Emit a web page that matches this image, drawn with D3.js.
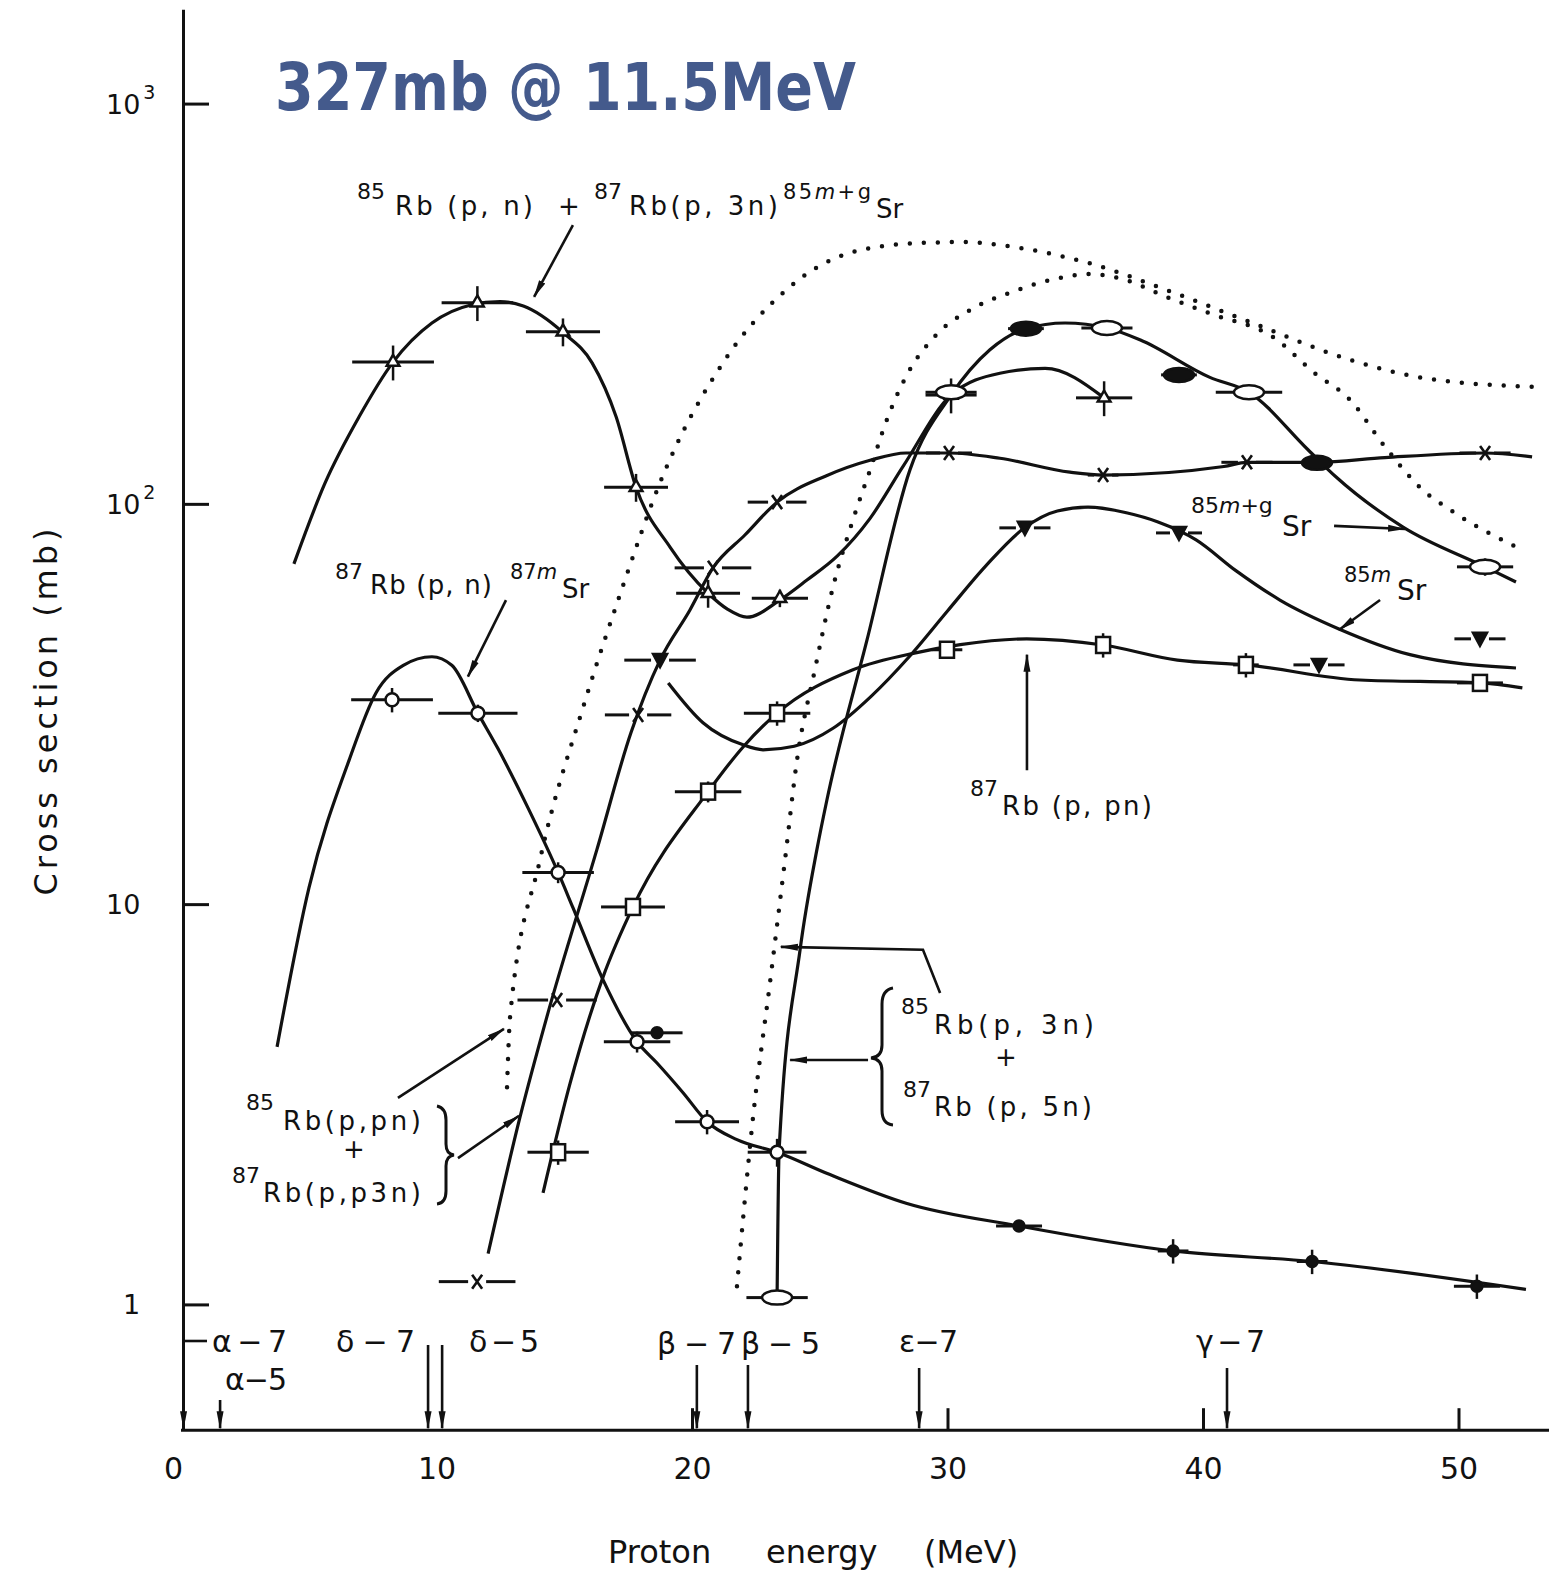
<!DOCTYPE html>
<html>
<head>
<meta charset="utf-8">
<script src="https://cdn.jsdelivr.net/npm/d3@7"></script>
<style>
  body { margin: 0; background: #fff; }
  svg { display: block; }
  text { font-family: "DejaVu Sans", "Liberation Sans", sans-serif; fill: #111; }
</style>
</head>
<body>
<svg id="chart" width="1549" height="1579"></svg>
<script>
// ---- values: [energy MeV, cross section mb, energy half width, relative error (, filled)]
const triPts = [
  [8.30, 226, 1.6, 0.10], [11.6, 318, 1.4, 0.10], [14.95, 269, 1.45, 0.08],
  [17.81, 110, 1.25, 0.08], [20.63, 59.8, 1.25, 0.08], [23.44, 58.1, 1.1, 0.05],
  [30.14, 187, 1.0, 0.10], [36.13, 184, 1.1, 0.10]
];
const triFit = [
  [4.42, 70.8], [5.64, 112.8], [6.97, 165], [8.30, 226], [9.82, 283], [11.35, 314],
  [12.49, 320], [13.4, 312], [14.95, 268], [16.09, 225], [17.03, 165], [17.81, 110],
  [19.14, 78], [20.63, 59.8], [21.4, 54.5], [22.15, 52.1], [23.44, 57.5], [24.50, 64.5],
  [25.68, 74], [26.97, 92], [28.26, 124], [30.14, 187], [32.05, 212], [33.82, 218], [36.13, 184]
];

const circPts = [
  [8.26, 32.4, 1.6, 0.07], [11.62, 30.0, 1.55, 0.05], [14.76, 12.0, 1.4, 0.06],
  [17.85, 4.53, 1.3, 0.06], [20.59, 2.86, 1.25, 0.07], [23.33, 2.40, 1.15, 0.08]
];
const dotPts = [
  [18.63, 4.77, 1.0, 0], [32.80, 1.57, 0.9, 0], [38.83, 1.36, 0.6, 0.07],
  [44.27, 1.28, 0.6, 0.07], [50.72, 1.11, 0.9, 0.07]
];
const circFit = [
  [3.76, 4.40], [5.01, 11.0], [6.58, 22.9], [7.63, 33.7], [8.7, 39.5], [9.82, 41.5],
  [10.6, 39.5], [11.62, 30.0], [12.4, 24.5], [13.6, 17.3], [14.76, 12.0], [15.34, 9.8],
  [16.52, 6.47], [17.85, 4.53], [18.63, 4.01], [19.65, 3.38], [20.59, 2.86], [21.76, 2.58],
  [23.33, 2.40], [25.40, 2.11], [28.38, 1.79], [32.80, 1.57], [38.83, 1.36], [44.27, 1.28], [52.64, 1.09]
];

const sqPts = [
  [14.76, 2.40, 1.2, 0.07], [17.69, 9.84, 1.25, 0], [20.63, 19.1, 1.3, 0.06],
  [23.33, 30.0, 1.3, 0.07], [29.98, 43.2, 0.6, 0], [36.09, 44.4, 0.3, 0.07],
  [41.68, 39.6, 0.5, 0.07], [50.84, 35.7, 0.9, 0]
];
const sqFit = [
  [14.17, 1.90], [15.23, 3.57], [16.52, 6.58], [17.69, 9.84], [20.63, 19.1],
  [22.0, 24.7], [23.33, 30.0], [26.30, 38.5], [28.8, 42.5], [30.5, 44.5], [33.1, 46.0],
  [36.09, 44.4], [39.0, 40.7], [41.68, 39.6], [46.14, 36.3], [50.84, 35.7], [52.5, 34.7]
];

const xPts = [
  [11.59, 1.14, 1.5, 0], [14.72, 5.76, 1.55, 0], [17.89, 29.7, 1.3, 0], [20.82, 69.2, 1.5, 0],
  [23.33, 101, 1.15, 0], [30.06, 134, 0.9, 0], [36.09, 118, 0.6, 0], [41.72, 127, 1.0, 0],
  [51.04, 134, 1.0, 0]
];
const xFit = [
  [12.02, 1.34], [13.27, 2.94], [14.32, 5.23], [16.28, 13.7], [17.61, 26.8], [18.75, 40.7],
  [19.92, 54.3], [20.82, 69.2], [22.07, 83.6], [23.33, 101], [25.24, 117.4], [26.97, 128.5],
  [28.38, 134], [30.06, 134], [32.05, 130], [34.79, 120], [36.09, 118], [40.82, 124],
  [41.72, 127], [44.46, 127], [47.12, 130.5], [51.04, 134], [52.88, 131]
];

const ellPts = [
  [23.33, 1.04, 1.2, 0.04, 0], [30.14, 190, 1.0, 0, 0], [33.07, 274, 0.7, 0, 1],
  [36.24, 275, 1.0, 0, 0], [39.06, 210, 0.7, 0, 1], [41.80, 190, 1.3, 0, 0],
  [44.46, 126.6, 0.5, 0, 1], [51.04, 69.6, 1.1, 0.05, 0]
];
const ellFit = [
  [23.33, 1.04], [23.41, 2.43], [24.23, 7.69], [24.89, 13.7], [25.28, 18.2], [26.85, 45.7],
  [28.53, 121.6], [30.14, 187], [31.66, 242.6], [33.07, 274], [34.6, 283], [36.24, 275],
  [37.53, 257], [40.27, 207], [41.80, 190], [44.11, 136.5], [45.21, 116.7], [47.83, 87.5],
  [51.04, 69.6], [52.25, 63.8]
];

const dnPts = [
  [18.75, 40.7, 1.4, 0], [33.03, 87.1, 1.0, 0], [39.06, 84.6, 0.9, 0],
  [44.54, 39.6, 1.0, 0], [50.84, 46.0, 1.0, 0]
];
const dnFit = [
  [19.07, 35.7], [20.43, 28.4], [22.0, 25.0], [22.78, 24.3], [24.0, 24.8], [25.52, 27.5],
  [27.0, 33], [28.5, 41.5], [30.0, 54], [31.5, 70], [33.0, 87], [34.3, 96], [35.5, 98.1],
  [37.0, 95], [38.24, 90.1], [39.73, 81.3], [41.3, 68], [43.01, 57.5], [45.32, 48.7],
  [48.10, 42], [52.25, 38.9]
];

// two dotted (calculated) excitation functions
const theoryA = [
  [12.76, 3.49], [12.88, 5.23], [14.05, 12.9], [15.77, 31.5], [17.18, 59.3], [18.87, 118],
  [21.21, 225], [23.68, 342], [26.14, 423], [28.81, 448], [30.76, 451], [32.05, 443],
  [35.50, 400], [38.90, 336], [41.64, 288], [45.75, 229], [48.49, 207], [52.88, 196]
];
const theoryB = [
  [21.76, 1.11], [22.39, 2.94], [23.05, 6.35], [23.64, 12.9], [24.11, 22.9], [24.81, 38.5],
  [25.52, 62.0], [26.30, 91.2], [26.97, 121.6], [27.59, 160], [28.5, 215], [29.5, 262],
  [31.0, 308], [32.5, 338], [34.0, 362], [35.6, 375], [37.0, 362], [38.5, 330], [40.27, 299],
  [42.74, 261], [44.38, 212], [45.75, 182], [47.12, 139], [48.49, 110], [49.86, 94.9], [52.33, 77.6]
];

// reaction thresholds marked on the energy axis
const thresholds = ["α−7", "α−5", "δ−7", "δ−5", "β−7", "β−5", "ε−7", "γ−7"];
const thresholdE = [0.1, 1.53, 9.67, 10.22, 20.19, 22.19, 28.89, 40.94];

const xTicks = [0, 10, 20, 30, 40, 50];
const yTicks = [1, 10, 100, 1000];
const yTickExp = ["", "", "2", "3"];

// ---- scales
const svg = d3.select("#chart");
const x = d3.scaleLinear().domain([0, 53.6]).range([181, 181 + 53.6 * 25.55]);
const y = d3.scaleLog().domain([0.485, 1720]).range([1430.2, 9.3]);

const curve = d3.line()
  .x(d => x(d[0]))
  .y(d => y(d[1]))
  .curve(d3.curveMonotoneX);

svg.append("defs").append("marker")
  .attr("id", "head")
  .attr("viewBox", "0 0 18 10")
  .attr("refX", 17).attr("refY", 5)
  .attr("markerWidth", 18).attr("markerHeight", 10)
  .attr("markerUnits", "userSpaceOnUse")
  .attr("orient", "auto")
  .append("path").attr("d", "M0,1.5 L18,5 L0,8.5 Z").attr("fill", "#111");

// dotted theory curves
[theoryA, theoryB].forEach(data => {
  svg.append("path")
    .attr("d", curve(data))
    .attr("fill", "none")
    .attr("stroke", "#111")
    .attr("stroke-width", 4.5)
    .attr("stroke-linecap", "round")
    .attr("stroke-dasharray", "0 14");
});

// fitted solid curves
[triFit, circFit, sqFit, xFit, ellFit, dnFit].forEach(data => {
  svg.append("path")
    .attr("d", curve(data))
    .attr("fill", "none")
    .attr("stroke", "#111")
    .attr("stroke-width", 3.2);
});

/**
 * drawPoints: error bars plus a marker for every measured point
 */
function drawPoints(data, shape, gap) {
  const g = svg.append("g").attr("stroke", "#111").attr("stroke-width", 3);
  const pts = g.selectAll("g").data(data).enter().append("g")
    .attr("transform", d => `translate(${x(d[0])},${y(d[1])})`);

  pts.append("line")
    .attr("x1", d => x(d[0] - d[2]) - x(d[0])).attr("x2", -gap)
    .attr("y1", 0).attr("y2", 0);
  pts.append("line")
    .attr("x1", gap).attr("x2", d => x(d[0] + d[2]) - x(d[0]))
    .attr("y1", 0).attr("y2", 0);
  pts.filter(d => d[3] > 0).append("line")
    .attr("x1", 0).attr("x2", 0)
    .attr("y1", d => y(d[1] * (1 + d[3])) - y(d[1]))
    .attr("y2", d => y(d[1] * (1 - d[3])) - y(d[1]))
    .attr("stroke-width", 2.5);

  pts.each(function(d) {
    const p = d3.select(this);
    const filled = shape === "dot" || shape === "down" || d[4] === 1;
    let m;
    if (shape === "tri") m = p.append("path").attr("d", d3.symbol(d3.symbolTriangle, 70)());
    else if (shape === "circ") m = p.append("circle").attr("r", 6.5);
    else if (shape === "dot") m = p.append("circle").attr("r", 5.5);
    else if (shape === "sq") m = p.append("rect").attr("x", -7).attr("y", -8).attr("width", 14).attr("height", 16);
    else if (shape === "ell") m = p.append("ellipse").attr("rx", 15).attr("ry", 7);
    else if (shape === "down") m = p.append("path").attr("d", "M-7,-6 L7,-6 L0,7 Z");
    else m = p.append("path").attr("d", "M-5,-7 L5,7 M-5,7 L5,-7").attr("fill", "none");
    if (shape !== "x") m.attr("fill", filled ? "#111" : "#fff").attr("stroke-width", 2.5);
    else m.attr("stroke-width", 2.6);
  });
}

drawPoints(triPts, "tri", 0);
drawPoints(circPts, "circ", 0);
drawPoints(dotPts, "dot", 0);
drawPoints(sqPts, "sq", 0);
drawPoints(xPts, "x", 9);
drawPoints(ellPts, "ell", 0);
drawPoints(dnPts, "down", 9);

// ---- axes
const yAxis = svg.append("g")
  .attr("transform", `translate(${x(0) + 2},0)`)
  .call(d3.axisLeft(y).tickValues(yTicks).tickSize(-26).tickSizeOuter(0).tickFormat(""));
const xAxis = svg.append("g")
  .attr("transform", `translate(0,${y(0.485)})`)
  .call(d3.axisBottom(x).tickValues(xTicks).tickSize(-22).tickSizeOuter(0).tickPadding(28));
xAxis.select(".domain").attr("d", `M${x(0)},0H1549`);
[yAxis, xAxis].forEach(a => {
  a.selectAll("path, line").attr("stroke", "#111").attr("stroke-width", 3);
});
xAxis.selectAll(".tick").filter(d => d < 20).select("line").remove();
xAxis.selectAll("text")
  .attr("font-size", 30)
  .attr("fill", "#111")
  .attr("font-family", "DejaVu Sans, sans-serif")
  .attr("dx", d => d === 0 ? -8 : 0);

const yLab = svg.append("g").selectAll("text").data(yTicks).enter().append("text")
  .attr("x", (d, i) => i === 0 ? 123 : 106)
  .attr("y", d => y(d) + 10)
  .attr("font-size", 27);
yLab.append("tspan").text((d, i) => i === 0 ? "1" : "10");
yLab.append("tspan").attr("dy", -15).attr("dx", 3).attr("font-size", 19).text((d, i) => yTickExp[i]);

// axis titles
svg.append("text").attr("y", 1563).attr("font-size", 32)
  .selectAll("tspan").data([["Proton", 608], ["energy", 766], ["(MeV)", 924]])
  .enter().append("tspan").attr("x", d => d[1]).text(d => d[0]);
svg.append("text")
  .attr("transform", "translate(57,712) rotate(-90)")
  .attr("text-anchor", "middle")
  .attr("font-size", 32)
  .attr("textLength", 367)
  .text("Cross section (mb)");

// ---- threshold arrows along the energy axis
const thrTop = [1340, 1400, 1345, 1345, 1365, 1365, 1368, 1368];
const thrLabX = [212, 225, 336, 469, 657, 741, 899, 1196];
const thrLabY = [1352, 1390, 1352, 1352, 1354, 1354, 1352, 1352];
const thrLabW = [75, 62, 79, 70, 79, 79, 59, 69];
const thr = svg.append("g");
thr.selectAll("line").data(thresholdE).enter().append("line")
  .attr("x1", d => x(d)).attr("x2", d => x(d))
  .attr("y1", (d, i) => thrTop[i]).attr("y2", y(0.485) - 2)
  .attr("stroke", "#111").attr("stroke-width", 2.6)
  .attr("marker-end", "url(#head)");
thr.append("line")
  .attr("x1", x(thresholdE[0])).attr("x2", 207)
  .attr("y1", 1341).attr("y2", 1341)
  .attr("stroke", "#111").attr("stroke-width", 2.6);
thr.selectAll("text").data(thresholds).enter().append("text")
  .attr("x", (d, i) => thrLabX[i]).attr("y", (d, i) => thrLabY[i])
  .attr("font-size", 30)
  .attr("textLength", (d, i) => thrLabW[i])
  .attr("lengthAdjust", "spacing")
  .text(d => d);

// ---- reaction labels: [x, y, font size, width (0 = natural), pieces...]; "_" marks italic
const labels = [
  [357, 199, 22, 0, "85"], [395, 215, 26, 138, "Rb (p, n)"], [558, 215, 26, 0, "+"],
  [594, 199, 22, 0, "87"], [629, 215, 26, 149, "Rb(p, 3n)"], [783, 199, 21, 88, "85", "_m", "+g"],
  [876, 218, 26, 0, "Sr"],
  [335, 579, 22, 0, "87"], [370, 594, 26, 122, "Rb (p, n)"], [510, 579, 21, 0, "87", "_m"],
  [562, 598, 26, 0, "Sr"],
  [246, 1110, 22, 0, "85"], [283, 1130, 26, 138, "Rb(p,pn)"], [343, 1158, 26, 0, "+"],
  [232, 1183, 22, 0, "87"], [263, 1202, 26, 158, "Rb(p,p3n)"],
  [901, 1014, 22, 0, "85"], [934, 1034, 26, 160, "Rb(p, 3n)"], [995, 1066, 26, 0, "+"],
  [903, 1097, 22, 0, "87"], [934, 1116, 26, 158, "Rb (p, 5n)"],
  [970, 796, 22, 0, "87"], [1002, 815, 26, 150, "Rb (p, pn)"],
  [1191, 513, 22, 0, "85", "_m", "+g"], [1282, 536, 28, 0, "Sr"],
  [1344, 582, 21, 0, "85", "_m"], [1397, 600, 28, 0, "Sr"]
];
const lab = svg.append("g").selectAll("text").data(labels).enter().append("text")
  .attr("x", d => d[0]).attr("y", d => d[1])
  .attr("font-size", d => d[2]);
lab.filter(d => d[3] > 0)
  .attr("textLength", d => d[3])
  .attr("lengthAdjust", "spacing");
lab.selectAll("tspan").data(d => d.slice(4)).enter().append("tspan")
  .attr("font-style", p => p[0] === "_" ? "italic" : "normal")
  .text(p => p.replace("_", ""));

// label arrows, in data units
const arrows = [
  [[15.34, 497], [13.82, 329]],
  [[12.72, 57.5], [11.23, 37.0]],
  [[8.49, 3.28], [12.64, 4.88]],
  [[10.84, 2.32], [13.23, 2.96]],
  [[29.71, 6.0], [29.04, 7.69], [23.48, 7.82]],
  [[26.89, 4.08], [23.84, 4.08]],
  [[33.11, 21.6], [33.11, 42.0]],
  [[45.13, 88.1], [47.91, 86.5]],
  [[46.93, 57.5], [45.32, 48.4]]
];
svg.append("g").selectAll("path").data(arrows).enter().append("path")
  .attr("d", d => d3.line().x(p => x(p[0])).y(p => y(p[1]))(d))
  .attr("fill", "none")
  .attr("stroke", "#111")
  .attr("stroke-width", 2.6)
  .attr("marker-end", "url(#head)");

// braces grouping the two composite labels
svg.append("path")
  .attr("d", "M893,988 Q882,990 882,1004 L882,1045 Q882,1057 871,1058 Q882,1059 882,1071 L882,1110 Q882,1124 893,1125")
  .attr("fill", "none").attr("stroke", "#111").attr("stroke-width", 3);
svg.append("path")
  .attr("d", "M437,1106 Q446,1108 446,1120 L446,1144 Q446,1154 454,1155 Q446,1156 446,1166 L446,1191 Q446,1203 437,1204")
  .attr("fill", "none").attr("stroke", "#111").attr("stroke-width", 3);

// headline
svg.append("text")
  .attr("x", 275).attr("y", 110)
  .attr("font-family", "Noto Sans, Open Sans, sans-serif")
  .attr("font-weight", 700)
  .attr("font-size", 66)
  .attr("textLength", 581)
  .attr("lengthAdjust", "spacingAndGlyphs")
  .style("fill", "#445a8c")
  .text("327mb @ 11.5MeV");
</script>
</body>
</html>
